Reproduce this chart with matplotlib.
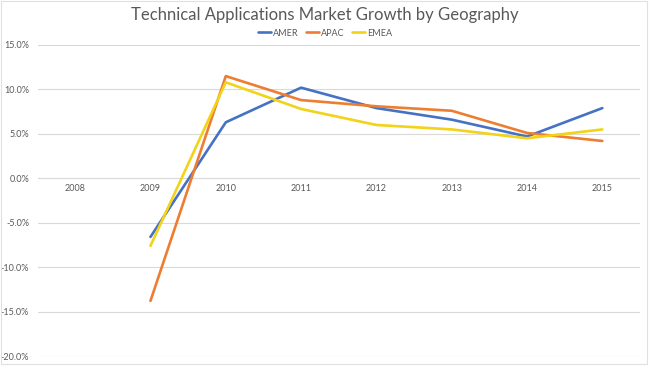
import matplotlib
matplotlib.use("Agg")
import matplotlib.pyplot as plt
from matplotlib.patches import Rectangle
import numpy as np

years = ["2008", "2009", "2010", "2011", "2012", "2013", "2014", "2015"]
amer = [np.nan, -6.6, 6.3, 10.2, 7.9, 6.6, 4.7, 7.9]
apac = [np.nan, -13.8, 11.5, 8.8, 8.1, 7.6, 5.1, 4.2]
emea = [np.nan, -7.6, 10.8, 7.8, 6.0, 5.5, 4.5, 5.5]
series_names = ["AMER", "APAC", "EMEA"]
colors = ["#4472C4", "#ED7D31", "#F2D318"]

plt.rcParams['font.family'] = ['Lato', 'DejaVu Sans']
fig = plt.figure(figsize=(6.5, 3.67), dpi=100)
ax = fig.add_axes([37.5/650, 1 - 356/367, (640-37.5)/650, (356-45)/367])

x = np.arange(len(years))
for vals, name, c in zip([amer, apac, emea], series_names, colors):
    ax.plot(x, vals, color=c, lw=1.9, label=name, solid_capstyle='round')

ax.set_xlim(-0.5, len(years) - 0.5)
ax.set_ylim(-20, 15)
yt = np.arange(-20, 16, 5)
ax.set_yticks(yt)
ax.set_yticklabels([f"{v:.1f}%" for v in yt], fontsize=6.5, color="#595959")
ax.tick_params(axis='y', length=0, pad=6)
ax.set_xticks([])
for xi, lab in zip(x, years):
    ax.text(xi, -1.2, lab, ha='center', va='center', fontsize=6.5, color="#595959")
ax.grid(axis='y', color="#D9D9D9", lw=0.8)
ax.set_axisbelow(True)
for s in ax.spines.values():
    s.set_visible(False)

fig.text(0.5, 1 - 15/367, "Technical Applications Market Growth by Geography",
         ha='center', va='center', fontsize=12, color="#595959")
handles, labels = ax.get_legend_handles_labels()
fig.legend(handles, labels, loc='center', bbox_to_anchor=(0.5, 1 - 33/367), ncol=3,
           frameon=False, fontsize=6.5, handlelength=1.5, handletextpad=0.2,
           columnspacing=0.8, labelcolor="#595959")

# faint chart-area border
fig.add_artist(Rectangle((0.5/650, 1 - 363.5/367), 646.5/650, 363/367,
                         transform=fig.transFigure, fill=False,
                         edgecolor="#E0E0E0", lw=0.8))

fig.savefig("out.png", dpi=100)
